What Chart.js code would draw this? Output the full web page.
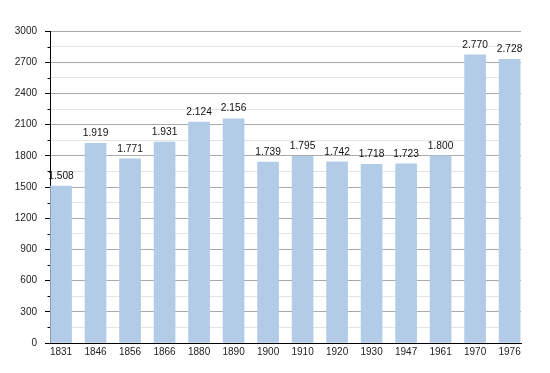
<!DOCTYPE html>
<html>
<head>
<meta charset="utf-8">
<script src="https://cdn.jsdelivr.net/npm/chart.js@4/dist/chart.umd.min.js"></script>
<style>
  html, body { margin: 0; padding: 0; background: #fff; }
  #wrap { width: 550px; height: 373px; }
</style>
</head>
<body>
<div id="wrap"><canvas id="chart" width="550" height="373"></canvas></div>
<script>
const years = ["1831", "1846", "1856", "1866", "1880", "1890", "1900", "1910", "1920", "1930", "1947", "1961", "1970", "1976"];
const population = [1508, 1919, 1771, 1931, 2124, 2156, 1739, 1795, 1742, 1718, 1723, 1800, 2770, 2728];
const yTicks = [0, 300, 600, 900, 1200, 1500, 1800, 2100, 2400, 2700, 3000];

const FONT = "'Liberation Sans', Arial, sans-serif";
const isMajor = (v) => v % 300 === 0;

const dotted = (n) => n.toLocaleString("en-US").replace(/,/g, ".");

// value labels above the bars
const valueLabels = {
  id: "valueLabels",
  afterDatasetsDraw(chart) {
    const ctx = chart.ctx;
    const meta = chart.getDatasetMeta(0);
    ctx.save();
    ctx.font = "10.2px " + FONT;
    ctx.fillStyle = "#111";
    ctx.textAlign = "center";
    ctx.textBaseline = "bottom";
    meta.data.forEach((bar, i) => {
      ctx.fillText(dotted(population[i]), bar.x, bar.y - 5);
    });
    ctx.restore();
  },
};

// short minor tick marks on the y axis
const minorTicks = {
  id: "minorTicks",
  afterDraw(chart) {
    const y = chart.scales.y;
    const ctx = chart.ctx;
    ctx.save();
    ctx.strokeStyle = "#000";
    ctx.lineWidth = 1;
    y.ticks.forEach((t) => {
      if (isMajor(t.value)) return;
      const py = Math.round(y.getPixelForValue(t.value)) + 0.5;
      ctx.beginPath();
      ctx.moveTo(y.right - 2.5, py);
      ctx.lineTo(y.right, py);
      ctx.stroke();
    });
    ctx.restore();
  },
};

new Chart(document.getElementById("chart"), {
  type: "bar",
  data: {
    datasets: [{
      data: population.map((v, i) => ({ x: i, y: v })),
      backgroundColor: "#b2cbe6",
      barThickness: 21,
    }],
  },
  options: {
    responsive: false,
    animation: false,
    layout: { padding: { left: 0, right: 29, top: 31, bottom: 0 } },
    plugins: { legend: { display: false }, tooltip: { enabled: false } },
    scales: {
      x: {
        type: "linear",
        offset: false,
        min: -0.32,
        max: 13.33,
        afterBuildTicks: (scale) => { scale.ticks = years.map((_, i) => ({ value: i })); },
        afterFit: (scale) => { scale.height = 30; },
        grid: { display: false, drawTicks: false },
        border: { color: "#000", width: 1 },
        ticks: {
          autoSkip: false,
          maxRotation: 0,
          padding: 3,
          color: "#222",
          font: { family: FONT, size: 10 },
          callback: (v) => years[v],
        },
      },
      y: {
        min: 0,
        max: 3000,
        afterFit: (scale) => { scale.width = 50; },
        border: { color: "#000", width: 1 },
        grid: {
          color: (c) => (isMajor(c.tick.value) ? "#a9a9a9" : "#e4e4e4"),
          tickColor: (c) => (isMajor(c.tick.value) ? "#000" : "rgba(0,0,0,0)"),
          tickLength: 5,
        },
        ticks: {
          stepSize: 150,
          padding: 8,
          color: "#222",
          font: { family: FONT, size: 10 },
          callback: (v) => (yTicks.includes(v) ? String(v) : ""),
        },
      },
    },
  },
  plugins: [valueLabels, minorTicks],
});
</script>
</body>
</html>
